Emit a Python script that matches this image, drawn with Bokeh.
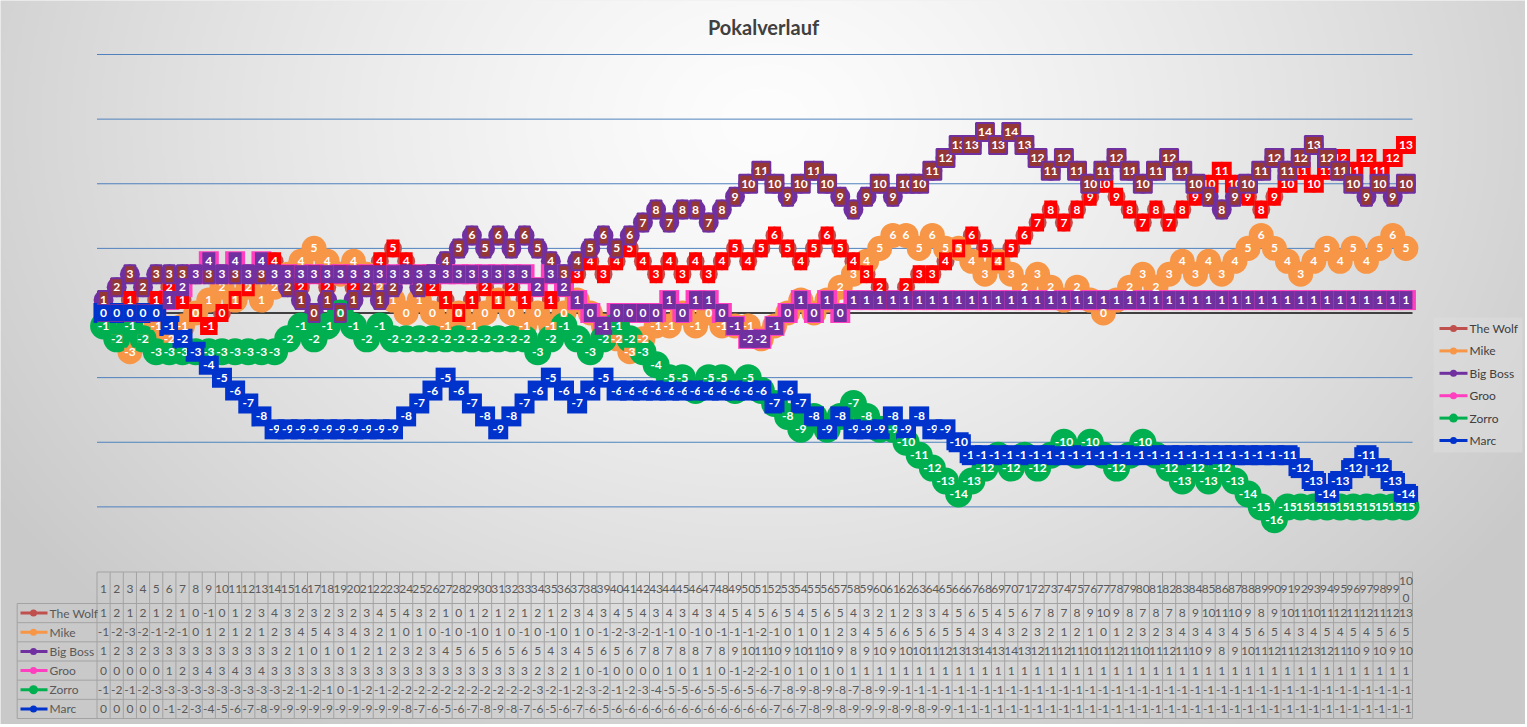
import numpy as np
from bokeh.plotting import figure
from bokeh.models import Range1d, ColumnDataSource, Label
from bokeh.core.properties import value
from bokeh.embed import file_html
from bokeh.resources import INLINE

# ---------------- data ----------------
title_text = "Pokalverlauf"
games = list(range(1, 101))
game_labels = [str(g) for g in games[:-1]] + ["10\n0"]
series_names = ["The Wolf", "Mike", "Big Boss", "Groo", "Zorro", "Marc"]

the_wolf = [1, 2, 1, 2, 1, 2, 1, 0, -1, 0,
            1, 2, 3, 4, 3, 2, 3, 2, 3, 2,
            3, 4, 5, 4, 3, 2, 1, 0, 1, 2,
            1, 2, 1, 2, 1, 2, 3, 4, 3, 4,
            5, 4, 3, 4, 3, 4, 3, 4, 5, 4,
            5, 6, 5, 4, 5, 6, 5, 4, 3, 2,
            1, 2, 3, 3, 4, 5, 6, 5, 4, 5,
            6, 7, 8, 7, 8, 9, 10, 9, 8, 7,
            8, 7, 8, 9, 10, 11, 10, 9, 8, 9,
            10, 11, 10, 11, 12, 11, 12, 11, 12, 13]
mike = [-1, -2, -3, -2, -1, -2, -1, 0, 1, 2,
        1, 2, 1, 2, 3, 4, 5, 4, 3, 4,
        3, 2, 1, 0, 1, 0, -1, 0, -1, 0,
        1, 0, -1, 0, -1, 0, 1, 0, -1, -2,
        -3, -2, -1, -1, 0, -1, 0, -1, -1, -1,
        -2, -1, 0, 1, 0, 1, 2, 3, 4, 5,
        6, 6, 5, 6, 5, 5, 4, 3, 4, 3,
        2, 3, 2, 1, 2, 1, 0, 1, 2, 3,
        2, 3, 4, 3, 4, 3, 4, 5, 6, 5,
        4, 3, 4, 5, 4, 5, 4, 5, 6, 5]
big_boss = [1, 2, 3, 2, 3, 3, 3, 3, 3, 3,
            3, 3, 3, 3, 2, 1, 0, 1, 0, 1,
            2, 1, 2, 3, 2, 3, 4, 5, 6, 5,
            6, 5, 6, 5, 4, 3, 4, 5, 6, 5,
            6, 7, 8, 7, 8, 8, 7, 8, 9, 10,
            11, 10, 9, 10, 11, 10, 9, 8, 9, 10,
            9, 10, 10, 11, 12, 13, 13, 14, 13, 14,
            13, 12, 11, 12, 11, 10, 11, 12, 11, 10,
            11, 12, 11, 10, 9, 8, 9, 10, 11, 12,
            11, 12, 13, 12, 11, 10, 9, 10, 9, 10]
groo = [0, 0, 0, 0, 0, 1, 2, 3, 4, 3,
        4, 3, 4, 3, 3, 3, 3, 3, 3, 3,
        3, 3, 3, 3, 3, 3, 3, 3, 3, 3,
        3, 3, 3, 2, 3, 2, 1, 0, -1, 0,
        0, 0, 0, 1, 0, 1, 1, 0, -1, -2,
        -2, -1, 0, 1, 0, 1, 0, 1, 1, 1,
        1, 1, 1, 1, 1, 1, 1, 1, 1, 1,
        1, 1, 1, 1, 1, 1, 1, 1, 1, 1,
        1, 1, 1, 1, 1, 1, 1, 1, 1, 1,
        1, 1, 1, 1, 1, 1, 1, 1, 1, 1]
zorro = [-1, -2, -1, -2, -3, -3, -3, -3, -3, -3,
         -3, -3, -3, -3, -2, -1, -2, -1, 0, -1,
         -2, -1, -2, -2, -2, -2, -2, -2, -2, -2,
         -2, -2, -2, -3, -2, -1, -2, -3, -2, -1,
         -2, -3, -4, -5, -5, -6, -5, -5, -6, -5,
         -6, -7, -8, -9, -8, -9, -8, -7, -8, -9,
         -9, -10, -11, -12, -13, -14, -13, -12, -11, -12,
         -11, -12, -11, -10, -11, -10, -11, -12, -11, -10,
         -11, -12, -13, -12, -13, -12, -13, -14, -15, -16,
         -15, -15, -15, -15, -15, -15, -15, -15, -15, -15]
marc = [0, 0, 0, 0, 0, -1, -2, -3, -4, -5,
        -6, -7, -8, -9, -9, -9, -9, -9, -9, -9,
        -9, -9, -9, -8, -7, -6, -5, -6, -7, -8,
        -9, -8, -7, -6, -5, -6, -7, -6, -5, -6,
        -6, -6, -6, -6, -6, -6, -6, -6, -6, -6,
        -6, -7, -6, -7, -8, -9, -8, -9, -9, -9,
        -8, -9, -8, -9, -9, -10, -11, -11, -11, -11,
        -11, -11, -11, -11, -11, -11, -11, -11, -11, -11,
        -11, -11, -11, -11, -11, -11, -11, -11, -11, -11,
        -11, -12, -13, -14, -13, -12, -11, -12, -13, -14]
grid_levels = [-15, -10, -5, 5, 10, 15, 20]
y_min, y_max = -20, 20

all_series = [the_wolf, mike, big_boss, groo, zorro, marc]

# ---------------- styles ----------------
line_colors = ["#C0504D", "#F79646", "#7030A0", "#FF3FBF", "#00B050", "#0033CC"]
label_fill = ["#FF0000", "#F79646", "#953735", "#7030A0", "#00B050", "#0033CC"]
marker_kind = ["circle", "circle", "circle", "square", "circle", "square"]
marker_size = [18, 25, 20, 20, 27, 20]
label_pad = [(3, 5), (0, 0), (2, 5), (3, 5), (0, 0), (3, 4)]
label_border = [None, None, "#7030A0", None, None, None]
series_line_w = [3, 3, 3, 3, 3, 4]
FONT = value("Lato")

# ---------------- layout (page pixels) ----------------
W, H = 1525, 724
PAGE = 0
plot_left, plot_right, plot_top, plot_bottom = 96.5, 1412, 54, 571
n = len(games)
SX = (plot_right - plot_left) / n
SY = (plot_bottom - plot_top) / (y_max - y_min)
X0 = 0.5 - (plot_left - PAGE) / SX
X1 = X0 + W / SX
Y1 = y_max + (plot_top - PAGE) / SY
Y0 = Y1 - H / SY


def dx(px):
    return X0 + (px - PAGE) / SX


def dy(py):
    return Y1 - (py - PAGE) / SY


p = figure(width=W, height=H, x_range=Range1d(X0, X1), y_range=Range1d(Y0, Y1),
           output_backend="svg", toolbar_location=None, min_border=0,
           x_axis_location=None, y_axis_location=None)
p.grid.visible = False
p.outline_line_color = None
p.background_fill_color = "#E4E4E4"
p.border_fill_color = "#E4E4E4"

# background radial gradient
gh, gw = H // 2, W // 2
yy, xx = np.mgrid[0:gh, 0:gw]
px_ = xx * 2.0 + PAGE
py_ = yy * 2.0 + PAGE
r = np.sqrt(((px_ - 763) / 800.0) ** 2 + ((py_ - 120) / 620.0) ** 2)
gray = 253 - 52 * np.clip(r / 1.15, 0, 1) ** 1.3
gray = np.flipud(gray).astype(np.uint8)
img = np.empty((gh, gw), dtype=np.uint32)
view = img.view(dtype=np.uint8).reshape((gh, gw, 4))
view[..., 0] = gray
view[..., 1] = gray
view[..., 2] = gray
view[..., 3] = 255
p.image_rgba(image=[img], x=X0, y=Y0, dw=X1 - X0, dh=Y1 - Y0)

# gridlines
xa, xb = 0.5, n + 0.5
p.multi_line(xs=[[xa, xb] for _ in grid_levels], ys=[[g, g] for g in grid_levels],
             line_color="#4F81BD", line_width=1)
p.line([xa, xb], [0, 0], line_color="#404040", line_width=2)

# title
p.add_layout(Label(x=dx(763), y=dy(26), text=title_text, text_align="center",
                   text_baseline="middle", text_font="Lato", text_font_size="20px",
                   text_font_style="bold", text_color="#404040"))

# series lines and markers
for i, vals in enumerate(all_series):
    p.line(games, vals, line_color=line_colors[i], line_width=series_line_w[i])
    src = ColumnDataSource(dict(x=games, y=vals))
    p.scatter("x", "y", source=src, marker=marker_kind[i], size=marker_size[i],
              fill_color=line_colors[i] if i != 1 and i != 4 else label_fill[i],
              line_color=None)

# data labels
for i, vals in enumerate(all_series):
    xs, ys = list(games), list(vals)
    if i == 4:  # drawn right to left as in the reference
        xs, ys = xs[::-1], ys[::-1]
    src = ColumnDataSource(dict(x=xs, y=ys, t=[str(v) for v in ys]))
    kw = {}
    if label_border[i]:
        kw = dict(border_line_color=label_border[i], border_line_width=2)
    p.text("x", "y", text="t", source=src, text_align="center", text_baseline="middle",
           text_font=FONT, text_font_size="12px", text_font_style="bold",
           text_color="white", background_fill_color=label_fill[i],
           padding=label_pad[i], **kw)

# ---------------- data table ----------------
tbl_top, hdr_bottom, tbl_bottom = 571.5, 603, 718
row_h = (tbl_bottom - hdr_bottom) / len(series_names)
row_edges = [hdr_bottom + k * row_h for k in range(len(series_names) + 1)]
label_left = 16.7
line_c = "#A3A3A3"
vx, vy = [], []
for k in range(n + 1):
    vx.append([k + 0.5, k + 0.5])
    vy.append([dy(tbl_top), dy(tbl_bottom)])
vx.append([dx(label_left), dx(label_left)])
vy.append([dy(hdr_bottom), dy(tbl_bottom)])
vx.append([xa, xb])
vy.append([dy(tbl_top), dy(tbl_top)])
for e in row_edges:
    vx.append([dx(label_left), xb])
    vy.append([dy(e), dy(e)])
p.multi_line(xs=vx, ys=vy, line_color=line_c, line_width=1)

p.text(games, [dy((tbl_top + hdr_bottom) / 2 + 1)] * n, text=game_labels,
       text_align="center", text_baseline="middle", text_font=FONT,
       text_font_size="12px", text_color="#595959", text_line_height=1.1)


def cell(v):
    s = str(v)
    return s if len(s) <= 2 else s[:2]


for i, vals in enumerate(all_series):
    yc = dy((row_edges[i] + row_edges[i + 1]) / 2)
    p.text(games, [yc] * n, text=[cell(v) for v in vals], text_align="center",
           text_baseline="middle", text_font=FONT, text_font_size="12px",
           text_color="#595959")
    p.line([dx(20), dx(47)], [yc, yc], line_color=line_colors[i], line_width=3)
    p.scatter([dx(33)], [yc], size=7 if i != 4 else 9, fill_color=line_colors[i],
              line_color=None)
    p.text([dx(49)], [yc], text=[series_names[i]], text_align="left",
           text_baseline="middle", text_font=FONT, text_font_size="12px",
           text_color="#595959")

# ---------------- legend (right) ----------------
p.quad(left=[dx(1433)], right=[dx(1522)], top=[dy(317)], bottom=[dy(452)],
       fill_color="#DCDCDC", fill_alpha=0.6, line_color=None)
leg_y0, leg_step = 328, 22.4
for i, name in enumerate(series_names):
    yc = dy(leg_y0 + i * leg_step)
    p.line([dx(1439), dx(1467)], [yc, yc], line_color=line_colors[i], line_width=3)
    p.scatter([dx(1453)], [yc], size=7 if i != 4 else 9, fill_color=line_colors[i],
              line_color=None)
    p.text([dx(1469)], [yc], text=[name], text_align="left", text_baseline="middle",
           text_font=FONT, text_font_size="12px", text_color="#404040")

open("out.html", "w").write(file_html(p, INLINE))
